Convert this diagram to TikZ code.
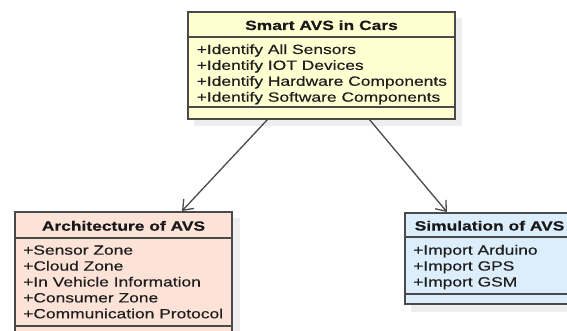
\documentclass[tikz,border=0pt]{standalone}
\usepackage{fontspec}
\setmainfont[FakeStretch=1.3,FakeBold=0.5]{Liberation Sans}
\usetikzlibrary{arrows.meta,calc}

\definecolor{edgegray}{HTML}{4A4A4A}
\definecolor{classyellow}{HTML}{FFFFD2}
\definecolor{classpink}{HTML}{FDE2D8}
\definecolor{classblue}{HTML}{DCEEFB}
\definecolor{shadowgray}{HTML}{EEEEEE}

\tikzset{
  classbox/.style={draw=edgegray, line width=1.5pt, inner sep=0pt, outer sep=0pt,
                   anchor=north west},
  sepline/.style={draw=edgegray, line width=1.8pt},
  classname/.style={font=\fontsize{13.4}{15.9}\selectfont\bfseries, inner sep=0pt,
                    text=black!90},
  member/.style={font=\fontsize{13.4}{15.9}\selectfont, inner sep=0pt, anchor=base west,
                 text=black!88},
  assoc/.style={draw=edgegray, line width=1.3pt,
                -{Straight Barb[length=9pt,width=14pt,line width=1.3pt]}},
}

\begin{document}
\begin{tikzpicture}[x=1pt,y=-1pt]
  \clip (0,0) rectangle (567,331);
  \useasboundingbox (0,0) rectangle (567,331);

  % soft drop shadows under the class boxes
  \fill[shadowgray] (194,18) rectangle (462,126);
  \fill[shadowgray] (21,218) rectangle (240,348);
  \fill[shadowgray] (411,219) rectangle (590,312);

  % ---- Smart AVS in Cars ----
  \node[classbox, fill=classyellow, minimum width=267pt, minimum height=107pt]
       (avs) at (188,12) {};
  \draw[sepline] ($(avs.north west)+(0,25)$) -- ($(avs.north east)+(0,25)$);
  \draw[sepline] ($(avs.north west)+(0,95)$) -- ($(avs.north east)+(0,95)$);
  \node[classname, anchor=base] (avsname) at (321.5,30) {Smart AVS in Cars};
  \node[member] (avs1) at (196.5,54.0)  {+Identify All Sensors};
  \node[member] (avs2) at (196.5,69.9)  {+Identify IOT Devices};
  \node[member] (avs3) at (196.5,85.8)  {+Identify Hardware Components};
  \node[member] (avs4) at (196.5,101.7) {+Identify Software Components};

  % ---- Architecture of AVS ----
  \node[classbox, fill=classpink, minimum width=217pt, minimum height=130pt]
       (arch) at (15,212) {};
  \draw[sepline] ($(arch.north west)+(0,26)$) -- ($(arch.north east)+(0,26)$);
  \draw[sepline] ($(arch.north west)+(0,114)$) -- ($(arch.north east)+(0,114)$);
  \node[classname, anchor=base] (archname) at (123.5,230.7) {Architecture of AVS};
  \node[member] (arch1) at (23,254.7) {+Sensor Zone};
  \node[member] (arch2) at (23,270.6) {+Cloud Zone};
  \node[member] (arch3) at (23,286.5) {+In Vehicle Information};
  \node[member] (arch4) at (23,302.4) {+Consumer Zone};
  \node[member] (arch5) at (23,318.3) {+Communication Protocol};

  % ---- Simulation of AVS ----
  \node[classbox, fill=classblue, minimum width=180pt, minimum height=91pt]
       (sim) at (405,213) {};
  \draw[sepline] ($(sim.north west)+(0,24)$) -- ($(sim.north east)+(0,24)$);
  \draw[sepline] ($(sim.north west)+(0,81)$) -- ($(sim.north east)+(0,81)$);
  \node[classname, anchor=base west] (simname) at (414.5,230.5) {Simulation of AVS};
  \node[member] (sim1) at (413,254.7) {+Import Arduino};
  \node[member] (sim2) at (413,270.6) {+Import GPS};
  \node[member] (sim3) at (413,286.5) {+Import GSM};

  % ---- associations ----
  \draw[assoc] ($(avs.south west)+(80,0)$)  -- ($(arch.north west)+(167,-1)$);
  \draw[assoc] ($(avs.south west)+(181,0)$) -- ($(sim.north west)+(42,-1)$);
\end{tikzpicture}
\end{document}
